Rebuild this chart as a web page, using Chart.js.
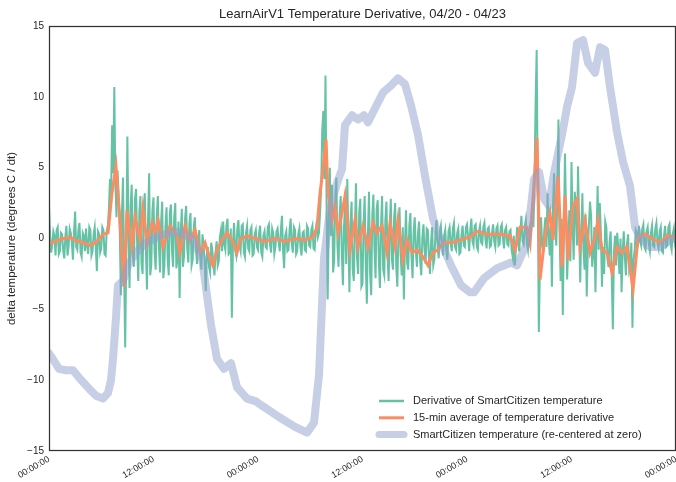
<!DOCTYPE html>
<html>
<head>
<meta charset="utf-8">
<script src="https://cdn.jsdelivr.net/npm/chart.js@4.4.1/dist/chart.umd.min.js"></script>
<style>
  html, body { margin: 0; padding: 0; background: #fff; }
  #chart { display: block; }
</style>
</head>
<body>
<canvas id="chart" width="676" height="482"></canvas>
<script>
// x is hours since 04/20 00:00
const tickLabels = ['00:00:00', '12:00:00', '00:00:00', '12:00:00', '00:00:00', '12:00:00', '00:00:00']

// derivative, one sample every 7.5 min (one row = 3 hours)
const derivStep = 0.125
const derivative = [
  2.4, 0.3, -1.0, -0.4, 0.5, 0.2, -1.2, 0.6, 0.8, -1.1, -0.9, 0.4, 0.3, -0.8, -1.4, 0.1, 0.9, -1.2, -0.6, 0.7, 0.4, -0.3, -1.5, 0.5,
  1.9, -0.6, -0.8, 0.6, 1.1, -1.0, -1.3, 0.4, 0.2, -0.9, 0.7, -0.5, -1.1, 0.8, 0.6, -1.2, -0.9, 0.3, 0.8, -0.7, -2.3, 0.5, 0.3, -1.0,
  -0.7, 0.8, 0.6, -1.1, -1.2, 0.5, 0.9, 2.0, 4.2, 3.0, 8.0, 4.6, 10.7, 3.8, 1.5, 4.8, 3.0, 0.5, -4.0, 1.8, 4.3, -2.5, -7.7, -1.0,
  7.2, 0.5, -3.5, 2.4, 3.8, -1.2, -2.0, 2.8, 3.5, -0.5, -3.0, 1.9, 3.0, -1.8, -2.5, 2.2, 3.2, -0.8, -3.6, 1.5, 4.6, -2.6, -1.8, 2.0,
  2.9, -1.0, -2.2, 1.6, 3.0, -0.6, -2.4, 1.2, 2.6, -2.8, -2.0, 0.9, 2.2, -1.4, -2.6, 1.8, 2.4, -0.9, -2.0, 1.5, 2.5, -2.1, -1.5, 1.2,
  -4.2, 0.4, 2.1, -2.0, -1.3, 1.4, 2.3, -0.7, -1.7, 1.1, 1.8, -1.9, -1.5, 0.8, 1.5, -0.6, -1.8, -0.2, 0.6, -1.4, -2.2, 0.3, -0.4, -1.6,
  -3.7, -1.2, -0.6, -2.0, -2.4, -0.3, -0.8, -1.8, -2.6, -1.0, -0.2, -1.9, -1.6, 0.1, 0.6, -0.9, 1.2, -0.4, -0.8, 0.9, 1.4, -1.1, -1.0, 0.7,
  -5.6, -0.3, 1.1, -0.8, -1.2, 0.7, 1.3, -0.5, -0.9, 0.9, 1.0, -1.0, -1.3, 0.4, 0.9, -0.7, -0.9, 0.6, 0.8, -1.2, -1.1, 0.3, 0.6, -0.6,
  -0.8, 0.4, 0.9, -1.0, -1.3, 0.2, 0.5, -0.6, -0.7, 0.8, 1.0, -0.4, -1.0, 0.7, 0.4, -1.1, -0.6, 0.5, 0.7, -0.3, -0.9, 0.6, 1.6, -0.8,
  -2.1, 0.2, 0.5, -0.9, -0.8, 0.6, 1.4, -0.4, -1.0, 0.8, 0.6, -1.1, -0.9, 0.3, 0.7, -0.6, -1.2, 0.4, 0.5, -0.8, -0.9, 0.9, 0.7, -0.5,
  -0.6, 0.6, 0.9, -0.7, -0.8, 0.5, 1.2, 0.1, 0.4, 1.8, 3.5, 7.6, 9.0, 4.2, 11.5, 2.5, -4.3, 1.0, 5.0, 0.2, 3.8, -2.4, -1.5, 3.0,
  4.3, -0.5, -2.0, 1.7, 3.0, -1.0, -3.3, 0.8, 2.5, -1.8, 4.2, 0.3, -3.8, 1.2, 2.6, -2.2, -3.0, 0.6, 3.9, -1.4, -2.5, 1.9, 2.8, -3.4,
  -3.2, 1.1, 3.0, -1.9, -4.6, 0.4, 3.3, -2.5, -4.0, 1.6, 3.1, -0.7, -2.8, 2.1, 2.7, -1.6, -3.5, 0.9, 3.0, -2.2, -2.6, 1.3, 2.6, -1.2,
  -3.0, 0.6, 2.8, -1.5, -2.2, 1.4, 2.5, -2.0, -3.4, 0.3, 2.2, -1.1, -2.6, 0.8, -4.3, -0.4, 2.0, -1.7, -2.2, 0.9, 1.8, -1.3, -2.8, 0.5,
  1.5, -0.9, -2.0, 0.4, 1.2, -1.6, -2.6, 0.1, 1.0, -0.8, -1.8, 0.7, 0.6, -1.3, -2.5, -0.2, 0.8, -1.9, -1.5, 0.3, 1.3, -0.6, -1.4, 0.5,
  0.9, -0.4, -1.2, 0.2, 0.6, -0.9, -1.5, 0.5, 0.8, -0.3, -0.9, 0.7, 1.1, -0.6, -0.8, 0.4, 0.7, -1.1, -1.0, 0.3, 0.9, -0.5, -0.6, 0.8,
  1.0, 0.1, -0.9, 0.6, 1.4, -0.2, -0.5, 0.9, 1.0, -0.6, -0.8, 0.5, 0.9, -0.3, -0.4, 0.8, 1.1, -0.1, -0.7, 0.7, 0.8, -0.6, -0.5, 0.4,
  1.0, -0.2, -0.6, 0.7, 0.9, -0.5, -0.4, 0.8, 1.0, 0.0, -0.7, 0.6, 0.8, -0.4, -0.5, 0.5, 0.6, -0.8, -1.3, 0.2, -1.9, -0.6, 0.8, -0.3,
  -0.9, 0.5, 1.6, -0.2, -0.4, 0.8, 1.3, -0.3, -0.8, 0.4, 0.9, 1.4, 2.5, 0.8, 4.0, 9.5, 13.3, 3.0, -6.6, -1.8, 1.5, -0.3, -1.0, 0.6,
  1.5, -0.6, 3.2, 0.4, -1.2, 1.0, -3.4, 2.2, 4.6, 1.2, -0.5, 3.0, 8.4, 0.6, -3.0, 1.4, -5.4, 0.2, 6.0, 1.8, -2.9, -0.4, 2.0, -1.6,
  5.4, 0.9, -1.5, 3.3, 2.0, -0.5, 5.1, 1.1, -3.1, 0.4, 3.2, -0.8, -2.2, 1.7, -4.1, -0.9, 1.0, 2.6, 1.6, -2.0, -1.0, 0.8, -3.8, 0.1,
  3.7, -0.8, 2.5, 0.3, -3.4, -0.6, -2.5, 1.2, 0.8, -1.4, -2.0, -0.2, 0.5, -2.8, -6.4, -1.0, 0.2, -1.9, 0.4, -0.7, -2.5, 0.0, -3.8, -0.9,
  0.5, -1.3, -2.6, -0.4, 0.3, -2.2, -1.8, -0.3, -6.3, -1.5, -0.9, 0.6, 0.4, -0.6, 0.9, -0.2, -0.5, 0.7, 1.0, -0.6, -0.8, 0.5, 0.8, -0.4,
  -0.9, 0.4, 0.9, -0.5, -0.6, 0.7, 1.1, -0.3, -0.7, 0.5, 0.8, -0.9, -1.0, 0.2, 0.9, -0.6, -0.5, 0.8, 1.0, -0.4, -0.8, 0.3, 0.7, -0.2, 0.3
]

const avgHours = [
  0, 1.03, 1.72, 2.41, 3.22, 4.02, 4.71, 5.51, 6.20, 6.78, 7.23, 7.69, 8.15, 8.61, 8.96,
  9.53, 9.88, 10.45, 10.79, 11.25, 11.83, 12.17, 12.52, 13.09, 13.90, 14.70, 15.04, 15.62,
  16.19, 16.77, 17.34, 17.92, 18.26, 18.83, 19.29, 19.87, 20.44, 21.02, 21.59, 21.93, 22.74,
  23.66, 24.81, 25.95, 27.10, 28.25, 29.40, 30.32, 30.78, 31.12, 31.47, 31.81, 32.04, 32.50,
  32.84, 33.19, 33.65, 33.99, 34.57, 35.14, 35.49, 36.06, 36.63, 37.21, 37.67, 38.24, 38.82,
  39.16, 39.73, 40.08, 40.65, 41.11, 41.69, 42.26, 42.95, 43.52, 44.10, 44.67, 45.25, 46.28,
  47.20, 48.35, 49.15, 50.30, 51.79, 52.94, 53.52, 54.09, 54.89, 55.24, 55.81, 56.04, 56.39,
  56.96, 57.53, 57.88, 58.45, 58.91, 59.26, 59.60, 60.18, 60.64, 60.98, 61.55, 62.13, 62.70,
  63.05, 63.51, 64.08, 64.65, 65.23, 65.80, 66.38, 67.07, 67.64, 68.44, 69.25, 70.17, 70.97, 72
]
const avgValues = [
  -0.4, -0.1, 0.0, 0.1, -0.2, -0.3, -0.5, -0.2, 0.3, 0.4, 3.2, 5.1, 1.3, -3.4, 2.0,
  -0.6, 1.5, -0.1, 2.1, -0.3, 1.1, 0.4, 1.3, -0.6, 0.9, 0.2, -1.0, 0.9,
  -0.1, 0.6, -1.0, -0.3, -1.0, -1.9, -0.8, -0.1, 0.4, -0.1, -1.0, -0.1, 0.2,
  0.0, -0.2, 0.0, -0.2, 0.0, -0.1, 0.1, 0.8, 3.2, 4.9, 7.0, 3.2, 1.3,
  2.3, 0.4, 1.8, 3.0, -0.8, 1.3, -0.6, 0.9, -0.6, 1.1, 0.4, 0.9, -1.0,
  1.1, -0.6, 1.3, -1.5, -0.1, -1.0, -0.8, -1.3, -1.9, -1.0, -0.8, -0.3, -0.3,
  -0.1, 0.1, 0.5, 0.3, 0.3, 0.2, -0.8, 0.8, 0.8, -0.3, 4.9, 7.1, -2.9,
  0.2, 1.8, -0.1, 4.4, -2.0, 3.0, -1.5, 2.3, 2.8, -0.6, 1.3, -1.0, 0.1,
  1.3, -0.8, -1.0, -2.4, -0.6, -1.0, -0.6, -3.6, 0.1, 0.3, 0.0, -0.3, 0.2, 0.1
]

// SmartCitizen temperature, re-centered at zero
const tempHours = [
  0, 0.34, 1.15, 1.95, 2.76, 3.56, 4.59, 5.40, 6.20, 6.78, 7.12, 7.35, 7.69, 7.92, 8.50,
  9.07, 9.99, 11.14, 12.75, 14.70, 16.42, 17.57, 18.03, 18.60, 19.29, 20.10, 20.90, 21.59,
  22.74, 23.77, 24.46, 26.41, 28.25, 29.63, 30.43, 31.01, 31.58, 32.27, 33.07, 33.65, 33.99,
  34.80, 35.49, 36.17, 36.63, 37.44, 38.36, 39.28, 40.08, 40.88, 41.57, 42.38, 43.18, 44.10,
  45.02, 46.17, 47.31, 48.35, 48.81, 49.96, 51.45, 53.06, 53.75, 54.89, 55.70, 56.27, 56.85,
  57.42, 57.99, 59.03, 59.49, 60.06, 60.64, 61.32, 61.90, 62.70, 63.28, 63.85, 64.42, 65.23,
  65.92, 66.72, 67.30, 67.87, 69.02, 70.17, 71.32, 72
]
const tempValues = [
  -8.1, -8.4, -9.2, -9.3, -9.3, -9.9, -10.6, -11.1, -11.3, -10.9, -10.0, -8.5, -5.6, -3.3, -3.0,
  -1.9, -1.0, -0.3, 0.2, 0.5, 0.0, -1.4, -3.5, -6.1, -8.5, -9.2, -8.8, -10.5,
  -11.3, -11.5, -11.8, -12.6, -13.3, -13.7, -13.0, -9.6, -1.4, 2.1, 3.9, 4.9, 8.0,
  8.7, 8.4, 8.7, 8.2, 9.2, 10.3, 10.8, 11.3, 10.9, 9.4, 7.3, 4.4, 1.4,
  -0.3, -1.9, -3.3, -3.8, -3.8, -2.8, -2.1, -1.7, -1.9, -0.3, 4.2, 4.7, 2.8,
  2.3, 4.6, 7.7, 9.3, 10.7, 13.8, 14.0, 12.4, 11.7, 13.5, 13.3, 10.7, 7.5,
  5.4, 3.7, 0.8, 0.1, -0.6, -0.6, -0.1, 0.0
]

const textColor = '#262626'
const fontFamily = '"Liberation Sans", Arial, sans-serif'

const toPoints = (xs, ys) => ys.map((y, i) => ({ x: xs[i], y }))
const derivPoints = derivative.map((y, i) => ({ x: i * derivStep, y }))

// spines round the plot, like the seaborn "white" style
const frame = {
  id: 'frame',
  afterDraw(chart) {
    const { ctx, chartArea: a } = chart
    ctx.save()
    ctx.strokeStyle = '#333333'
    ctx.lineWidth = 1.25
    ctx.strokeRect(a.left + 0.5, a.top + 0.5, a.right - a.left - 1, a.bottom - a.top - 1)
    ctx.restore()
  }
}

// legend inside the lower right corner of the plot
const cornerLegend = {
  id: 'cornerLegend',
  afterDraw(chart) {
    const { ctx, chartArea: a } = chart
    const rows = [
      { ds: chart.data.datasets[0], width: 2.5 },
      { ds: chart.data.datasets[1], width: 3 },
      { ds: chart.data.datasets[2], width: 7 }
    ]
    ctx.save()
    ctx.font = '11px ' + fontFamily
    ctx.textBaseline = 'middle'
    ctx.fillStyle = textColor
    rows.forEach((row, i) => {
      const y = a.bottom - 50 + i * 16.8
      ctx.beginPath()
      ctx.strokeStyle = row.ds.borderColor
      ctx.lineWidth = row.width
      ctx.lineCap = row.width > 4 ? 'round' : 'butt'
      ctx.moveTo(a.right - 297, y)
      ctx.lineTo(a.right - 272, y)
      ctx.stroke()
      ctx.fillText(row.ds.label, a.right - 263, y)
    })
    ctx.restore()
  }
}

new Chart(document.getElementById('chart'), {
  type: 'line',
  data: {
    datasets: [{
      label: 'Derivative of SmartCitizen temperature',
      data: derivPoints,
      borderColor: '#66c2a5',
      borderWidth: 2,
      pointRadius: 0,
      tension: 0,
      order: 2
    }, {
      label: '15-min average of temperature derivative',
      data: toPoints(avgHours, avgValues),
      borderColor: '#fc8d62',
      borderWidth: 3,
      pointRadius: 0,
      tension: 0,
      order: 1
    }, {
      label: 'SmartCitizen temperature (re-centered at zero)',
      data: toPoints(tempHours, tempValues),
      borderColor: 'rgba(141, 160, 203, 0.5)',
      borderWidth: 8,
      borderCapStyle: 'round',
      borderJoinStyle: 'round',
      pointRadius: 0,
      tension: 0,
      order: 0
    }]
  },
  options: {
    responsive: false,
    animation: false,
    devicePixelRatio: 1,
    layout: { padding: 0 },
    plugins: {
      legend: { display: false },
      tooltip: { enabled: false },
      title: {
        display: true,
        fullSize: false,
        text: 'LearnAirV1 Temperature Derivative, 04/20 - 04/23',
        color: textColor,
        font: { family: fontFamily, size: 13, weight: 'normal' },
        padding: { top: 7, bottom: 3.4 }
      }
    },
    scales: {
      x: {
        type: 'linear',
        min: 0,
        max: 72,
        grid: { display: false, drawTicks: false },
        border: { display: false },
        ticks: {
          stepSize: 12,
          autoSkip: false,
          minRotation: 30,
          maxRotation: 30,
          padding: 3,
          color: textColor,
          font: { family: fontFamily, size: 9 },
          callback: (value) => tickLabels[value / 12]
        },
        afterFit: (scale) => {
          scale.height = 31
          scale.paddingLeft = 0
          scale.paddingRight = 0
        }
      },
      y: {
        min: -15,
        max: 15,
        grid: { display: false, drawTicks: false },
        border: { display: false },
        ticks: {
          stepSize: 5,
          padding: 5,
          color: textColor,
          font: { family: fontFamily, size: 10 },
          callback: (value) => String(value).replace('-', '\u2212')
        },
        title: {
          display: true,
          text: 'delta temperature (degrees C / dt)',
          color: textColor,
          font: { family: fontFamily, size: 11.5 },
          padding: { top: 5, bottom: 0 }
        },
        afterFit: (scale) => {
          scale.width = 49
          scale.paddingTop = 0
          scale.paddingBottom = 0
        }
      }
    }
  },
  plugins: [frame, cornerLegend]
})
</script>
</body>
</html>
